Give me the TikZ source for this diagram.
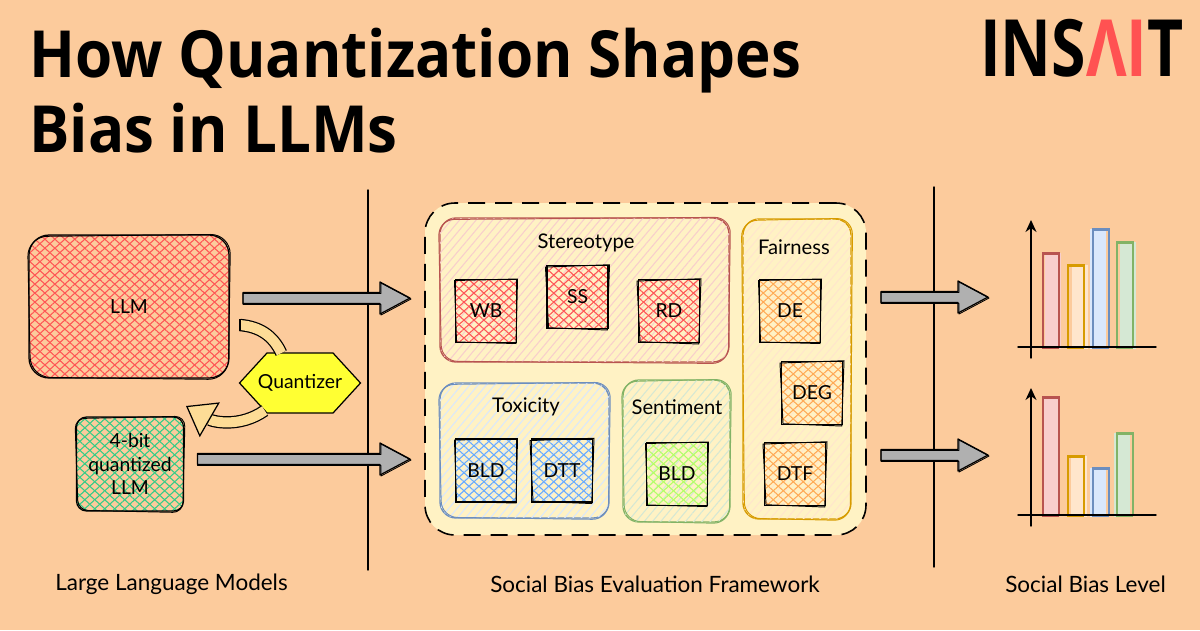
\documentclass[tikz,border=0pt]{standalone}
\usepackage{fontspec}
\setmainfont{Lato}
\newfontfamily\titlefont{Open Sans}
\usetikzlibrary{arrows.meta,calc,patterns.meta,shapes.symbols}
\definecolor{bgpeach}{HTML}{FCCB9C}
\definecolor{framefill}{HTML}{FFF2C4}
\definecolor{stereoline}{HTML}{B85450}
\definecolor{stereofill}{HTML}{F8CECC}
\definecolor{toxline}{HTML}{6C8EBF}
\definecolor{toxfill}{HTML}{DAE8FC}
\definecolor{sentline}{HTML}{82B366}
\definecolor{sentfill}{HTML}{D5E8D4}
\definecolor{fairline}{HTML}{D79B00}
\definecolor{fairfill}{HTML}{FFE6CC}
\definecolor{logored}{HTML}{FF5252}
\definecolor{arrowgray}{HTML}{B0B0B0}
\definecolor{hatchred}{HTML}{FF5555}
\definecolor{hatchgreen}{HTML}{33CC88}
\definecolor{hatchblue}{HTML}{66AAFF}
\definecolor{hatchlime}{HTML}{B3FF66}
\definecolor{hatchorange}{HTML}{FFAA55}
\definecolor{quantfill}{HTML}{FFFF33}
\definecolor{quantback}{HTML}{FDDC96}
\tikzset{
boxsize/.style 2 args={minimum width=#1*0.02cm,minimum height=#2*0.02cm,inner sep=0pt,outer sep=0pt},
sketchbox/.style={draw=black,line width=.7pt,align=center},
crosshatch/.style={preaction={pattern={Lines[angle=42,distance=3.8pt,line width=.6pt]},pattern color=#1},
preaction={pattern={Lines[angle=-42,distance=3.8pt,line width=.6pt]},pattern color=#1}},
panel/.style 2 args={draw=#1,line width=.75pt,rounded corners=.32cm,fill=framefill,
postaction={pattern={Lines[angle=50,distance=3.6pt,line width=.6pt]},pattern color=#2}},
blockarrow/.style={draw=black,fill=arrowgray,line width=.7pt,line join=round,
to path={let \p1=(\tikztostart),\p2=(\tikztotarget) in
(\x1,\y1+.11cm)--(\x2-.6cm,\y1+.11cm)--(\x2-.6cm,\y1+.32cm)--(\x2,\y1)
--(\x2-.6cm,\y1-.32cm)--(\x2-.6cm,\y1-.11cm)--(\x1,\y1-.11cm)--cycle}},
quantarrow/.style={draw=black,line width=.7pt,double=quantback,double distance=.2cm},
axisline/.style={line width=.8pt,line cap=round},
caption/.style={font=\fontsize{12.8pt}{14pt}\selectfont,inner sep=0pt},
heading/.style={font=\fontsize{11.5pt}{13pt}\selectfont,inner sep=0pt}
}
\begin{document}
\begin{tikzpicture}[x=0.02cm,y=-0.02cm]
\path[use as bounding box,fill=bgpeach] (0,0) rectangle (1200,630);
\node[anchor=base west,inner sep=0pt,align=left,xscale=.925,font=\titlefont\bfseries\fontsize{37pt}{42.5pt}\selectfont] (title) at (29,152) {How Quantization Shapes\\Bias in LLMs};
\node[anchor=base west,inner sep=0pt,xscale=.79,font=\titlefont\bfseries\fontsize{45pt}{45pt}\selectfont] (logo) at (980,76) {INS\textcolor{logored}{ΛI}T};
\coordinate (sepatop) at (368,190);
\coordinate (sepabot) at (368,570);
\coordinate (sepbtop) at (934,187);
\coordinate (sepbbot) at (934,567);
\draw[axisline] (sepatop)--(sepabot);
\draw[axisline] (sepbtop)--(sepbbot);
\node[sketchbox,boxsize={200}{143},rounded corners=.4cm,crosshatch=hatchred,font=\fontsize{11pt}{13pt}\selectfont] (llm) at (129,306.5) {LLM};
\node[sketchbox,boxsize={107}{94},rounded corners=.2cm,crosshatch=hatchgreen,font=\fontsize{11pt}{13.5pt}\selectfont] (qllm) at (130,464) {4-bit\\quantized\\LLM};
\node[draw=black,fill=quantfill,line width=.7pt,signal,signal from=nowhere,signal to=east and west,signal pointer angle=95,boxsize={121}{60}] (quant) at (300,383) {};
\node[inner sep=0pt,font=\fontsize{11pt}{13pt}\selectfont] (quantlabel) at (quant.center) {Quantizer};
\coordinate (quantin) at (240,325);
\coordinate (tailtop) at (240,319);
\coordinate (tailbot) at (240,331);
\coordinate (quantout) at (186,406);
\draw[quantarrow] (quantin) to[out=-5,in=115] (quant.122);
\draw[line width=.7pt] (tailtop)--(tailbot);
\draw[quantarrow,-{Triangle[length=.55cm,width=.8cm,fill=quantback]}] (quant.218) to[out=215,in=-30] (quantout);
\node[draw=black,dashed,dash pattern=on .34cm off .2cm,line width=.9pt,fill=framefill,rounded corners=.6cm,boxsize={441}{332}] (frame) at (645.5,369) {};
\node[panel={stereoline}{stereofill},boxsize={289}{144}] (stereo) at (584.5,290) {};
\node[panel={toxline}{toxfill},boxsize={169}{135}] (tox) at (524.5,450.5) {};
\node[panel={sentline}{sentfill},boxsize={107}{142}] (sent) at (676.5,451) {};
\node[panel={fairline}{fairfill},boxsize={108}{300}] (fair) at (797,369) {};
\node[heading] (stereolabel) at (586,243) {Stereotype};
\node[heading] (toxlabel) at (526,407) {Toxicity};
\node[heading] (sentlabel) at (677,407) {Sentiment};
\node[heading] (fairlabel) at (794,247) {Fairness};
\foreach \name/\x/\y/\txt/\col in {wb/486/311/WB/hatchred,ss/577.5/297/SS/hatchred,rd/669/311/RD/hatchred,bldt/486/470.5/BLD/hatchblue,dtt/562/470.5/DTT/hatchblue,blds/677/474/BLD/hatchlime,de/790/311/DE/hatchorange,deg/812/393/DEG/hatchorange,dtf/795/474/DTF/hatchorange}
\node[sketchbox,boxsize={61}{63},crosshatch=\col,font=\fontsize{11pt}{13pt}\selectfont] (\name) at (\x,\y) {\txt};
\foreach \n/\j/\rad/\col in {llm/1.5/.4cm/black,qllm/1.5/.2cm/black,wb/1/0cm/black,ss/1.5/0cm/black,rd/1.5/0cm/black,bldt/1/0cm/black,dtt/1.5/0cm/black,blds/1/0cm/black,de/1/0cm/black,deg/1.5/0cm/black,dtf/1.5/0cm/black,stereo/1.5/.32cm/stereoline,tox/1.5/.32cm/toxline,sent/1.5/.32cm/sentline,fair/1.5/.32cm/fairline}
\draw[\col,line width=.55pt,rounded corners=\rad] ($(\n.north west)+(-\j,\j)$)--($(\n.north east)+(\j,-\j/2)$)--($(\n.south east)+(-\j/2,\j)$)--($(\n.south west)+(\j,-\j/2)$)--cycle;
\coordinate (arrowas) at ($(llm.east)+(14,-8.5)$);
\coordinate (arrowae) at ($(frame.west)+(-15,-71)$);
\coordinate (arrowbs) at ($(qllm.east)+(14,-5)$);
\coordinate (arrowbe) at ($(frame.west)+(-15,90)$);
\coordinate (arrowcs) at ($(frame.east)+(15,-72)$);
\coordinate (arrowce) at ($(frame.east)+(122,-72)$);
\coordinate (arrowds) at ($(frame.east)+(15,86)$);
\coordinate (arrowde) at ($(frame.east)+(122,86)$);
\foreach \a/\b in {arrowas/arrowae,arrowbs/arrowbe,arrowcs/arrowce,arrowds/arrowde}{
\draw[blockarrow] (\a) to (\b);
\draw[blockarrow,fill=none,line width=.5pt] ($(\a)+(0,1)$) to ($(\b)+(1,1)$);
}
\foreach \base/\bars in {347/{1043/253/stereoline/stereofill/2,1068/265/fairline/fairfill/4,1093/229/toxline/toxfill/-3,1117/242/sentline/sentfill/3},515/{1043/397/stereoline/stereofill/-1,1068/456/fairline/fairfill/3,1093/468/toxline/toxfill/-3,1117/433/sentline/sentfill/-3}}{
\foreach \x/\top/\lcol/\fcol/\dx in \bars{
\fill[\fcol] (\x+\dx,\top) rectangle (\x+\dx+16,\base+2);
\draw[\lcol,line width=.75pt] (\x,\top) rectangle (\x+16,\base);
\draw[\lcol,line width=.5pt] (\x-1,\top+1) rectangle (\x+15,\base+1);
}
\coordinate (xleft) at (1018,\base);
\coordinate (xright) at (1156,\base);
\coordinate (ybot) at (1031,\base+11);
\coordinate (ytop) at (1031,\base-127);
\draw[axisline] (xleft)--(xright);
\draw[axisline,-{Stealth[length=.24cm,width=.22cm]}] (ybot)--(ytop);
}
\node[caption] (leftcap) at (171.5,584) {Large Language Models};
\node[caption] (midcap) at (655,584) {Social Bias Evaluation Framework};
\node[caption] (rightcap) at (1085.5,584) {Social Bias Level};
\end{tikzpicture}
\end{document}
